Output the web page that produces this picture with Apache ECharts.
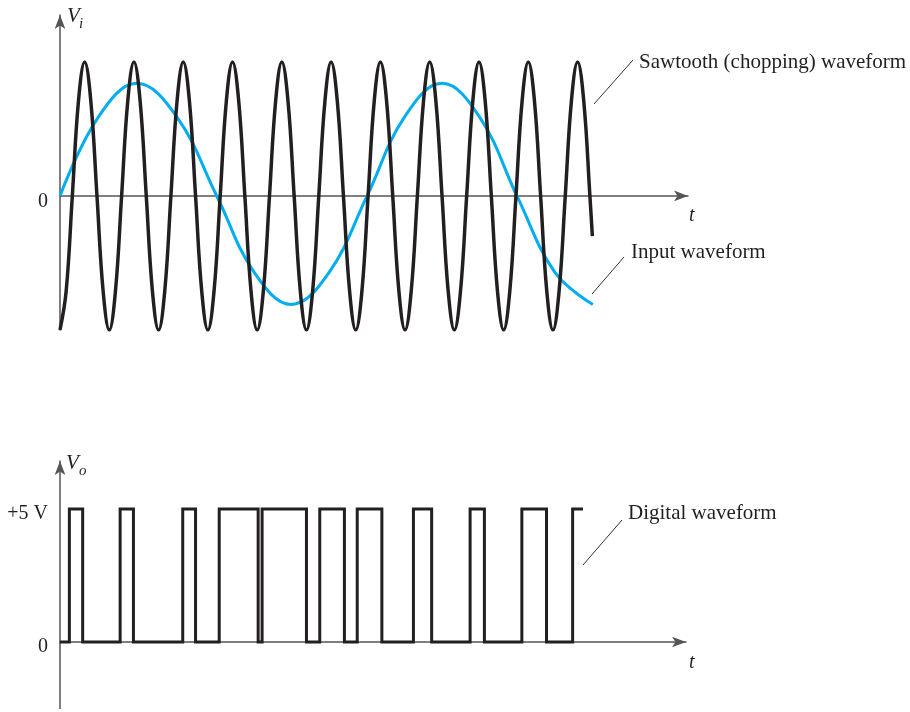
<!DOCTYPE html>
<html>
<head>
<meta charset="utf-8">
<title>Chopping - digital waveform</title>
<script src="https://cdn.jsdelivr.net/npm/echarts@6/dist/echarts.min.js"></script>
<style>
html,body{margin:0;padding:0;background:#ffffff;}
#main{width:910px;height:712px;}
</style>
</head>
<body>
<div id="main"></div>
<script>
// t in chopping periods, Vi normalised to the chopping amplitude
var sawT=[0,0.125,0.25,0.375,0.5,0.625,0.75,0.875,
	1,1.125,1.25,1.375,1.5,1.625,1.75,1.875,
	2,2.125,2.25,2.375,2.5,2.625,2.75,2.875,
	3,3.125,3.25,3.375,3.5,3.625,3.75,3.875,
	4,4.125,4.25,4.375,4.5,4.625,4.75,4.875,
	5,5.125,5.25,5.375,5.5,5.625,5.75,5.875,
	6,6.125,6.25,6.375,6.5,6.625,6.75,6.875,
	7,7.125,7.25,7.375,7.5,7.625,7.75,7.875,
	8,8.125,8.25,8.375,8.5,8.625,8.75,8.875,
	9,9.125,9.25,9.375,9.5,9.625,9.75,9.875,
	10,10.125,10.25,10.375,10.5,10.625,10.75,10.8];
var sawV=[-1,-0.71,0,0.71,1,0.71,0,-0.71,
	-1,-0.71,0,0.71,1,0.71,0,-0.71,
	-1,-0.71,0,0.71,1,0.71,0,-0.71,
	-1,-0.71,0,0.71,1,0.71,0,-0.71,
	-1,-0.71,0,0.71,1,0.71,0,-0.71,
	-1,-0.71,0,0.71,1,0.71,0,-0.71,
	-1,-0.71,0,0.71,1,0.71,0,-0.71,
	-1,-0.71,0,0.71,1,0.71,0,-0.71,
	-1,-0.71,0,0.71,1,0.71,0,-0.71,
	-1,-0.71,0,0.71,1,0.71,0,-0.71,
	-1,-0.71,0,0.71,1,0.71,0,-0.3];
// input waveform
var inputT=[0,0.78,1.56,2.37,3.18,3.94,4.69,5.46,6.23,6.99,7.75,8.51,9.27,10.04,10.81];
var inputV=[0,0.59,0.84,0.59,0,-0.57,-0.81,-0.57,0,0.59,0.84,0.59,0,-0.57,-0.81];
// digital output, level changes (V)
var digitalT=[0,0.19,0.46,1.22,1.49,2.49,2.75,3.23,4.02,4.10,5.00,5.27,5.77,6.03,6.53,7.17,7.54,8.32,8.61,9.37,9.87,10.40,10.61];
var digitalV=[0,5,0,5,0,5,0,5,0,5,0,5,0,5,0,5,0,5,0,5,0,5,5];

var serif="'Liberation Serif','Times New Roman',serif";
var inkColor='#231f20';
var axisColor='#555555';

function pairs(xs,ys)
{
	var out=[];
	for(var i=0;i<xs.length;i++)
	{
		out.push([xs[i],ys[i]]);
	}
	return out;
}

function axisLineStyle()
{
	return {
		show:true,
		symbol:['none','arrow'],
		symbolSize:[8,14],
		lineStyle:{color:axisColor,width:1.5}
	};
}

function tAxis(idx,maxT)
{
	return {
		gridIndex:idx,type:'value',min:0,max:maxT,
		axisLine:axisLineStyle(),
		axisTick:{show:false},
		axisLabel:{show:false},
		splitLine:{show:false}
	};
}

function label(txt,x,y,size,italic)
{
	return {
		type:'text',x:x,y:y,
		style:{text:txt,fill:inkColor,font:(italic?'italic ':'')+size+'px '+serif,verticalAlign:'middle'}
	};
}

function leader(x1,y1,x2,y2)
{
	return {type:'line',shape:{x1:x1,y1:y1,x2:x2,y2:y2},style:{stroke:'#333',lineWidth:1}};
}

var myChart=echarts.init(document.getElementById('main'));
var option={
	animation:false,
	backgroundColor:'#ffffff',
	grid:[
		{left:60,top:15,width:628,height:315},
		{left:60,top:461,width:626,height:247.5}
	],
	xAxis:[tAxis(0,12.74),tAxis(1,12.70)],
	yAxis:[
		{
			gridIndex:0,type:'value',min:-1,max:1.35,interval:1,
			axisLine:axisLineStyle(),
			axisTick:{show:false},
			splitLine:{show:false},
			axisLabel:{
				margin:12,color:inkColor,fontFamily:serif,fontSize:20,verticalAlign:'top',lineHeight:12,
				formatter:function(v){return v===0?'0':'';}
			}
		},
		{
			gridIndex:1,type:'value',min:-2.5,max:6.8,interval:2.5,
			axisLine:axisLineStyle(),
			axisTick:{show:false},
			splitLine:{show:false},
			axisLabel:{
				margin:12,color:inkColor,fontFamily:serif,fontSize:20,verticalAlign:'top',lineHeight:10,
				formatter:function(v){return v===0?'0':(v===5?'+5 V':'');}
			}
		}
	],
	series:[
		{
			name:'Input waveform',type:'line',xAxisIndex:0,yAxisIndex:0,
			data:pairs(inputT,inputV),smooth:0.4,showSymbol:false,
			lineStyle:{color:'#00aeef',width:3}
		},
		{
			name:'Sawtooth (chopping) waveform',type:'line',xAxisIndex:0,yAxisIndex:0,
			data:pairs(sawT,sawV),smooth:0.4,showSymbol:false,
			lineStyle:{color:inkColor,width:3.5}
		},
		{
			name:'Digital waveform',type:'line',xAxisIndex:1,yAxisIndex:1,
			data:pairs(digitalT,digitalV),step:'end',showSymbol:false,
			lineStyle:{color:inkColor,width:3,join:'miter',cap:'butt'}
		}
	],
	graphic:[
		label('V',67,16,21,true),
		label('i',79,24,15,true),
		label('t',689,216,20,true),
		label('V',66,463,21,true),
		label('o',79,471,15,true),
		label('t',689,663,20,true),
		label('Sawtooth (chopping) waveform',639,62,21,false),
		label('Input waveform',631,252,21,false),
		label('Digital waveform',628,513,21,false),
		leader(594,104,633,60),
		leader(592,294,624,257),
		leader(583,565,622,520)
	]
};
myChart.setOption(option);
</script>
</body>
</html>
